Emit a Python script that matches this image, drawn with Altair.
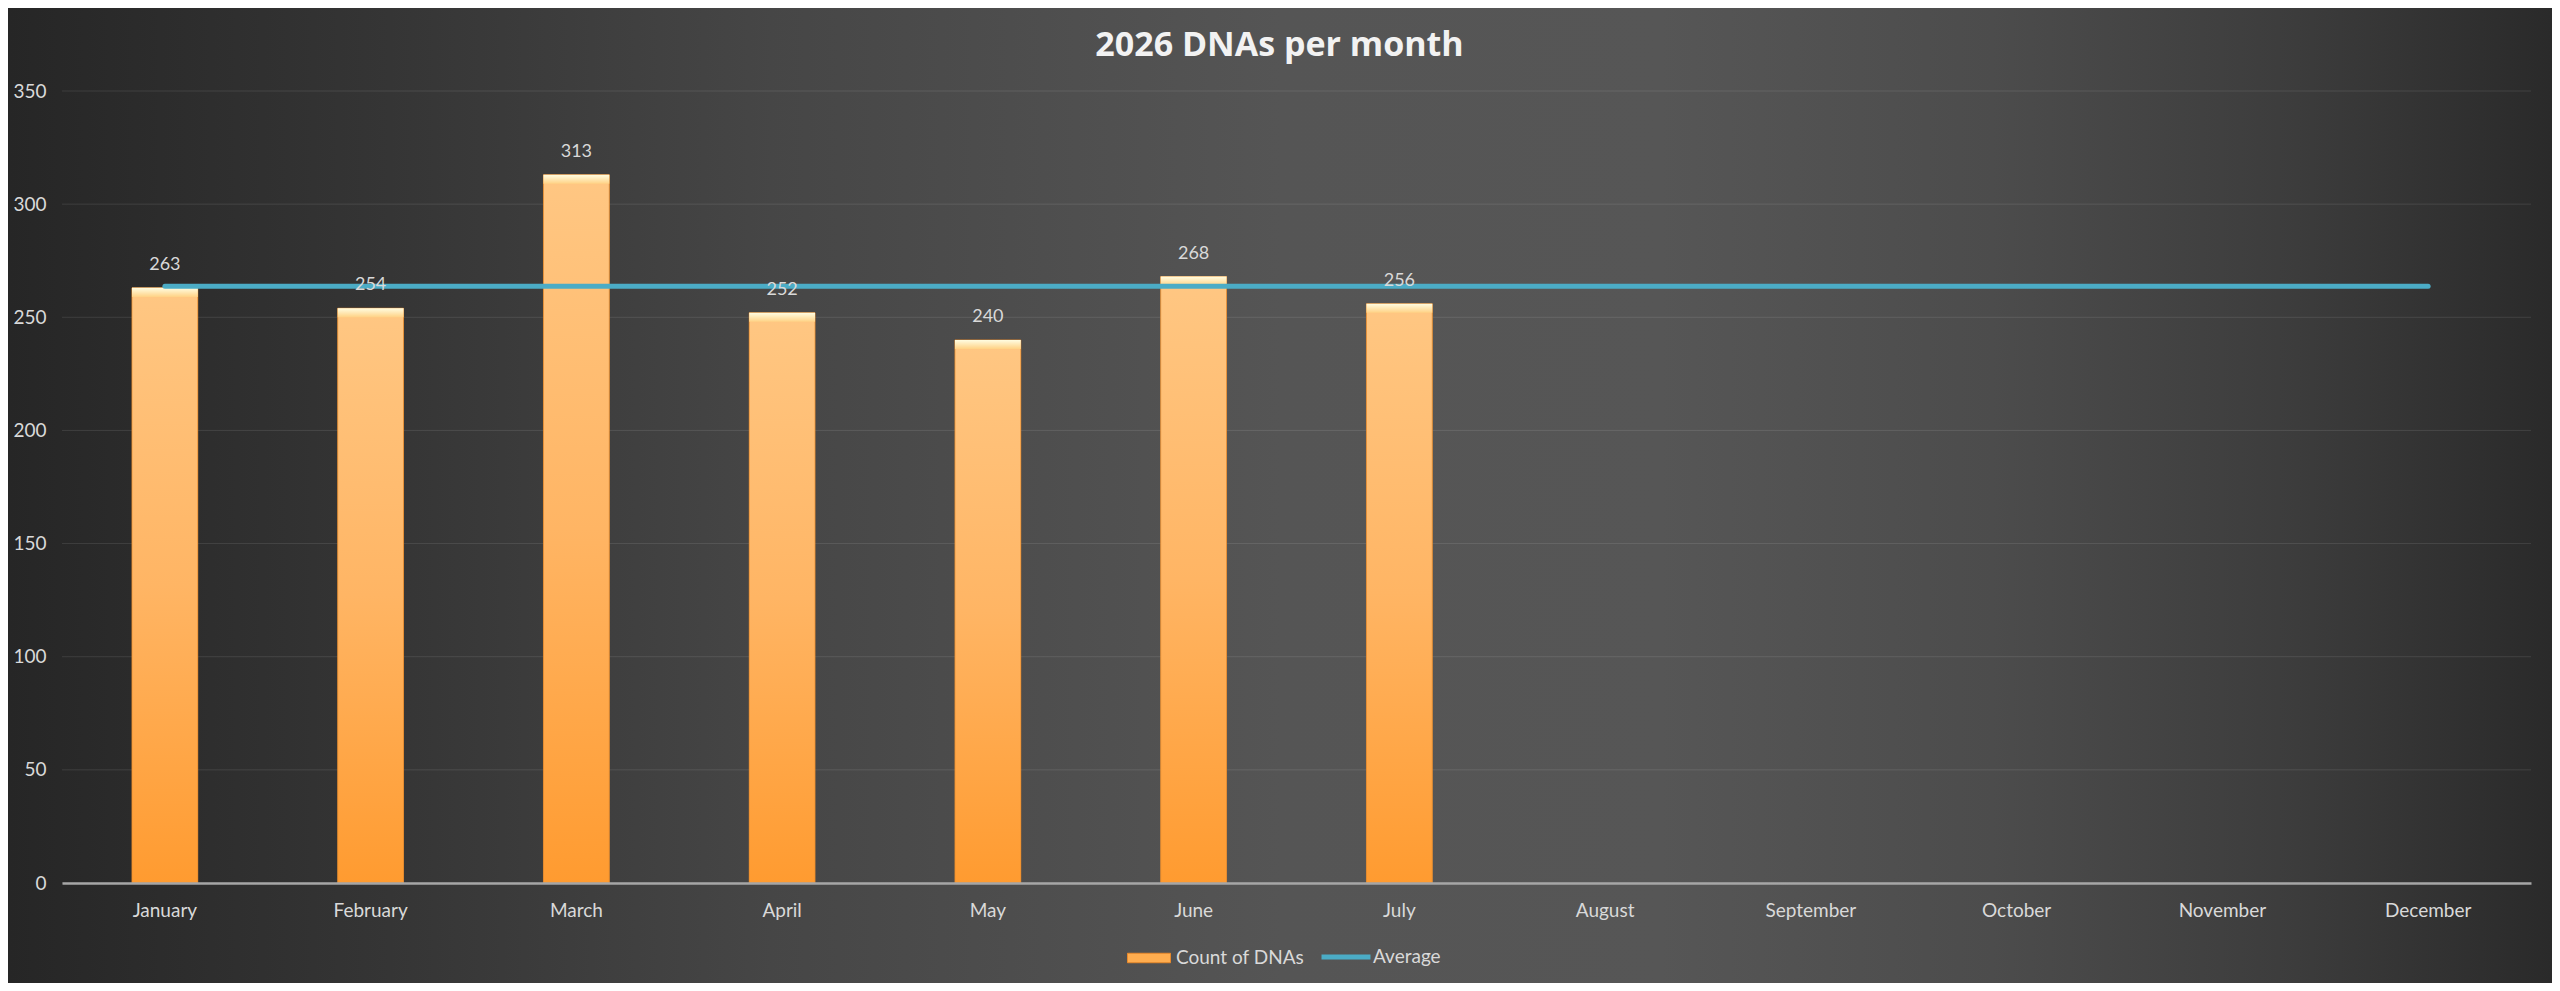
import pandas as pd
import altair as alt

# Monthly DNA counts (only Jan-Jul reported so far)
months = ['January', 'February', 'March', 'April', 'May', 'June',
          'July', 'August', 'September', 'October', 'November', 'December']
counts = [263, 254, 313, 252, 240, 268, 256, None, None, None, None, None]
y_ticks = [0, 50, 100, 150, 200, 250, 300, 350]

df = pd.DataFrame({'month': months, 'count': counts})
df['bar_series'] = 'Count of DNAs'
df['line_series'] = 'Average'
ticks = pd.DataFrame({'tick': y_ticks})

W, H = 2469, 792
TXT = '#d9d9d9'
FONT = 'Lato'

x_enc = alt.X('month:N', sort=months, title=None,
              scale=alt.Scale(domain=months, paddingInner=0.68, paddingOuter=0.34),
              axis=alt.Axis(labelAngle=0, labelPadding=18, ticks=False, zindex=2,
                            domainColor='#a6a6a6', domainWidth=2.5, grid=False))
y_scale = alt.Scale(domain=[0, 350])
y_enc = alt.Y('count:Q', title=None, scale=y_scale,
              axis=alt.Axis(values=y_ticks, grid=False, ticks=False, domain=False,
                            labelPadding=16, zindex=2))

# background vignette across whole canvas
bg = alt.Chart(pd.DataFrame({'a': [0]})).mark_rect(
    color={'gradient': 'linear', 'x1': 0, 'y1': 0, 'x2': 1, 'y2': 0,
           'stops': [{'offset': 0, 'color': '#262626'},
                     {'offset': 0.15, 'color': '#353535'},
                     {'offset': 0.3, 'color': '#464646'},
                     {'offset': 0.5, 'color': '#555555'},
                     {'offset': 0.65, 'color': '#565656'},
                     {'offset': 0.78, 'color': '#4c4c4c'},
                     {'offset': 0.9, 'color': '#3c3c3c'},
                     {'offset': 1, 'color': '#2a2a2a'}]}
).encode(x=alt.value(-54), x2=alt.value(W + 21), y=alt.value(-83), y2=alt.value(H + 100))

grid = alt.Chart(ticks).mark_rule(color='#ffffff', opacity=0.1, strokeWidth=1).encode(
    y=alt.Y('tick:Q', scale=y_scale), x=alt.value(0), x2=alt.value(W))

base = alt.Chart(df).transform_filter('isValid(datum.count)')

# solid bars carry the legend entry
bars_solid = base.mark_bar().encode(
    x=x_enc, y=y_enc,
    fill=alt.Fill('bar_series:N', title=None,
                  scale=alt.Scale(range=['#ffad4f']),
                  legend=alt.Legend(orient='none', legendX=1065, legendY=845,
                                    symbolType='M-1,-0.22H1V0.22H-1Z', symbolSize=1849,
                                    symbolStrokeColor='#e8892b', symbolStrokeWidth=1,
                                    labelOffset=5, labelFontSize=19, labelColor=TXT,
                                    labelFont=FONT))
)

bars = base.mark_bar(
    color={'gradient': 'linear', 'x1': 0, 'y1': 0, 'x2': 0, 'y2': 1,
           'stops': [{'offset': 0, 'color': '#ffc783'},
                     {'offset': 0.5, 'color': '#ffb564'},
                     {'offset': 1, 'color': '#ff9b30'}]},
    stroke='#ea8a2a', strokeWidth=1, strokeOpacity=0.7
).encode(x=x_enc, y=y_enc)

caps = base.transform_calculate(cap='datum.count - 4').mark_bar(
    color={'gradient': 'linear', 'x1': 0, 'y1': 0, 'x2': 0, 'y2': 1,
           'stops': [{'offset': 0, 'color': '#fffde2'},
                     {'offset': 1, 'color': '#ffd285'}]}
).encode(x=x_enc, y=y_enc, y2='cap:Q')

avg_line = alt.Chart(df).transform_joinaggregate(
    avg='mean(count)'
).mark_line(strokeWidth=5, strokeCap='round').encode(
    x=x_enc,
    y=alt.Y('avg:Q', scale=y_scale),
    stroke=alt.Stroke('line_series:N', title=None,
                      scale=alt.Scale(range=['#4bacc6']),
                      legend=alt.Legend(orient='none', legendX=1257, legendY=839,
                                        symbolType='stroke', symbolSize=2401,
                                        symbolStrokeWidth=5, labelOffset=0,
                                        labelFontSize=19, labelColor=TXT,
                                        labelFont=FONT))
)

labels = base.mark_text(dy=-23, baseline='middle', fontSize=18, color=TXT, font=FONT).encode(
    x=x_enc, y=y_enc, text='count:Q')

chart = alt.layer(bg, grid, bars_solid, bars, caps, avg_line, labels).resolve_scale(
    fill='independent', stroke='independent'
).properties(
    width=W, height=H,
    autosize=alt.AutoSizeParams(type='none'),
    padding={'left': 54, 'top': 83, 'right': 21, 'bottom': 100},
    background='#3a3a3a',
    title=alt.TitleParams('2026 DNAs per month', fontSize=34, font='Open Sans',
                          fontWeight='bold', color='#f2f2f2', anchor='middle',
                          offset=-55, dx=-17)
).configure_view(stroke=None).configure_axis(
    labelFontSize=19, labelColor=TXT, labelFont=FONT
)

chart.save('out.html', embed_options={'renderer': 'svg', 'actions': False})
